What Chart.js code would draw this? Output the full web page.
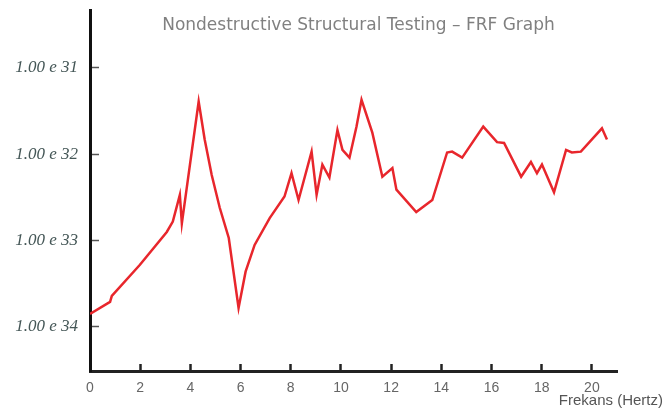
<!DOCTYPE html>
<html>
<head>
<meta charset="utf-8">
<script src="https://cdn.jsdelivr.net/npm/chart.js@4.4.1/dist/chart.umd.min.js"></script>
<style>body{margin:0;background:#fff}</style>
</head>
<body>
<canvas id="graficoFRF" width="670" height="419"></canvas>
<script>
// frecuencia (Hz) y nivel (exponente, eje invertido)
const frecuencias = [0.0, 0.80, 0.87, 1.99, 3.06, 3.30, 3.58, 3.66, 4.33, 4.57, 4.85, 5.17, 5.53, 5.92, 6.20, 6.56, 7.16, 7.75, 8.03, 8.31, 8.83, 9.03, 9.26, 9.54, 9.86, 10.06, 10.34, 10.62, 10.82, 11.25, 11.65, 12.05, 12.21, 13.00, 13.64, 14.23, 14.43, 14.83, 15.67, 16.22, 16.50, 17.18, 17.57, 17.81, 18.01, 18.49, 18.97, 19.20, 19.56, 20.40, 20.60];
const niveles = [33.85, 33.71, 33.64, 33.28, 32.90, 32.78, 32.47, 32.80, 31.39, 31.83, 32.24, 32.62, 32.97, 33.78, 33.36, 33.05, 32.74, 32.49, 32.22, 32.53, 31.97, 32.47, 32.12, 32.27, 31.72, 31.95, 32.04, 31.68, 31.37, 31.75, 32.26, 32.16, 32.41, 32.67, 32.53, 31.98, 31.97, 32.04, 31.68, 31.86, 31.87, 32.26, 32.09, 32.22, 32.12, 32.44, 31.95, 31.98, 31.97, 31.70, 31.83];
const titulo = 'Nondestructive Structural Testing – FRF Graph';
const tituloEjeX = 'Frekans (Hertz)';

const ctx = document.getElementById('graficoFRF').getContext('2d');

// textos dibujados a mano: titulo sobre el area y nombre del eje x a la derecha
const textos = {
    id: 'textos',
    afterDraw(chart) {
        const c = chart.ctx;
        const area = chart.chartArea;
        c.save();
        c.fillStyle = '#808080';
        c.font = '17px "DejaVu Sans"';
        c.textAlign = 'center';
        c.textBaseline = 'alphabetic';
        c.fillText(titulo, (area.left + area.right) / 2 + 5, area.top + 20);
        c.fillStyle = '#555555';
        c.font = '15px "Liberation Sans"';
        c.textAlign = 'right';
        c.textBaseline = 'middle';
        c.fillText(tituloEjeX, chart.width - 7, area.bottom + 30);
        c.restore();
    }
};

// sin relleno extra de las etiquetas, el area queda donde se pide
const sinRelleno = s => {
    s.paddingTop = 0;
    s.paddingBottom = 0;
    s.paddingLeft = 0;
    s.paddingRight = 0;
};

const graficoFRF = new Chart(ctx, {
    type: 'line',
    data: {
        datasets: [{
            label: 'FRF',
            data: frecuencias.map((f, i) => ({x: f, y: niveles[i]})),
            borderColor: '#e8262c',
            borderWidth: 2.5,
            pointRadius: 0,
            tension: 0,
            fill: false
        }]
    },
    options: {
        responsive: false,
        animation: false,
        layout: {
            padding: {top: 10, right: 53, left: 0, bottom: 0}
        },
        plugins: {
            legend: {display: false},
            tooltip: {enabled: false}
        },
        scales: {
            x: {
                type: 'linear',
                min: 0,
                max: 21,
                afterFit: s => { s.height = 48; sinRelleno(s); },
                grid: {
                    drawOnChartArea: false,
                    tickLength: -7,
                    tickWidth: 2.5,
                    tickColor: '#222'
                },
                border: {color: '#222', width: 3},
                ticks: {
                    stepSize: 2,
                    includeBounds: false,
                    maxRotation: 0,
                    padding: 16,
                    color: '#666',
                    font: {family: 'Liberation Sans', size: 14}
                }
            },
            y: {
                type: 'linear',
                reverse: true,
                min: 30.33,
                max: 34.51,
                afterFit: s => { s.width = 90; sinRelleno(s); },
                grid: {
                    drawOnChartArea: false,
                    tickLength: -9,
                    tickWidth: 1.5,
                    tickColor: '#555'
                },
                border: {color: '#111', width: 3},
                ticks: {
                    stepSize: 1,
                    includeBounds: false,
                    padding: 21,
                    color: '#455757',
                    font: {family: 'Liberation Serif', size: 17, style: 'italic'},
                    callback: v => '1.00 e ' + v
                }
            }
        }
    },
    plugins: [textos]
});
</script>
</body>
</html>
